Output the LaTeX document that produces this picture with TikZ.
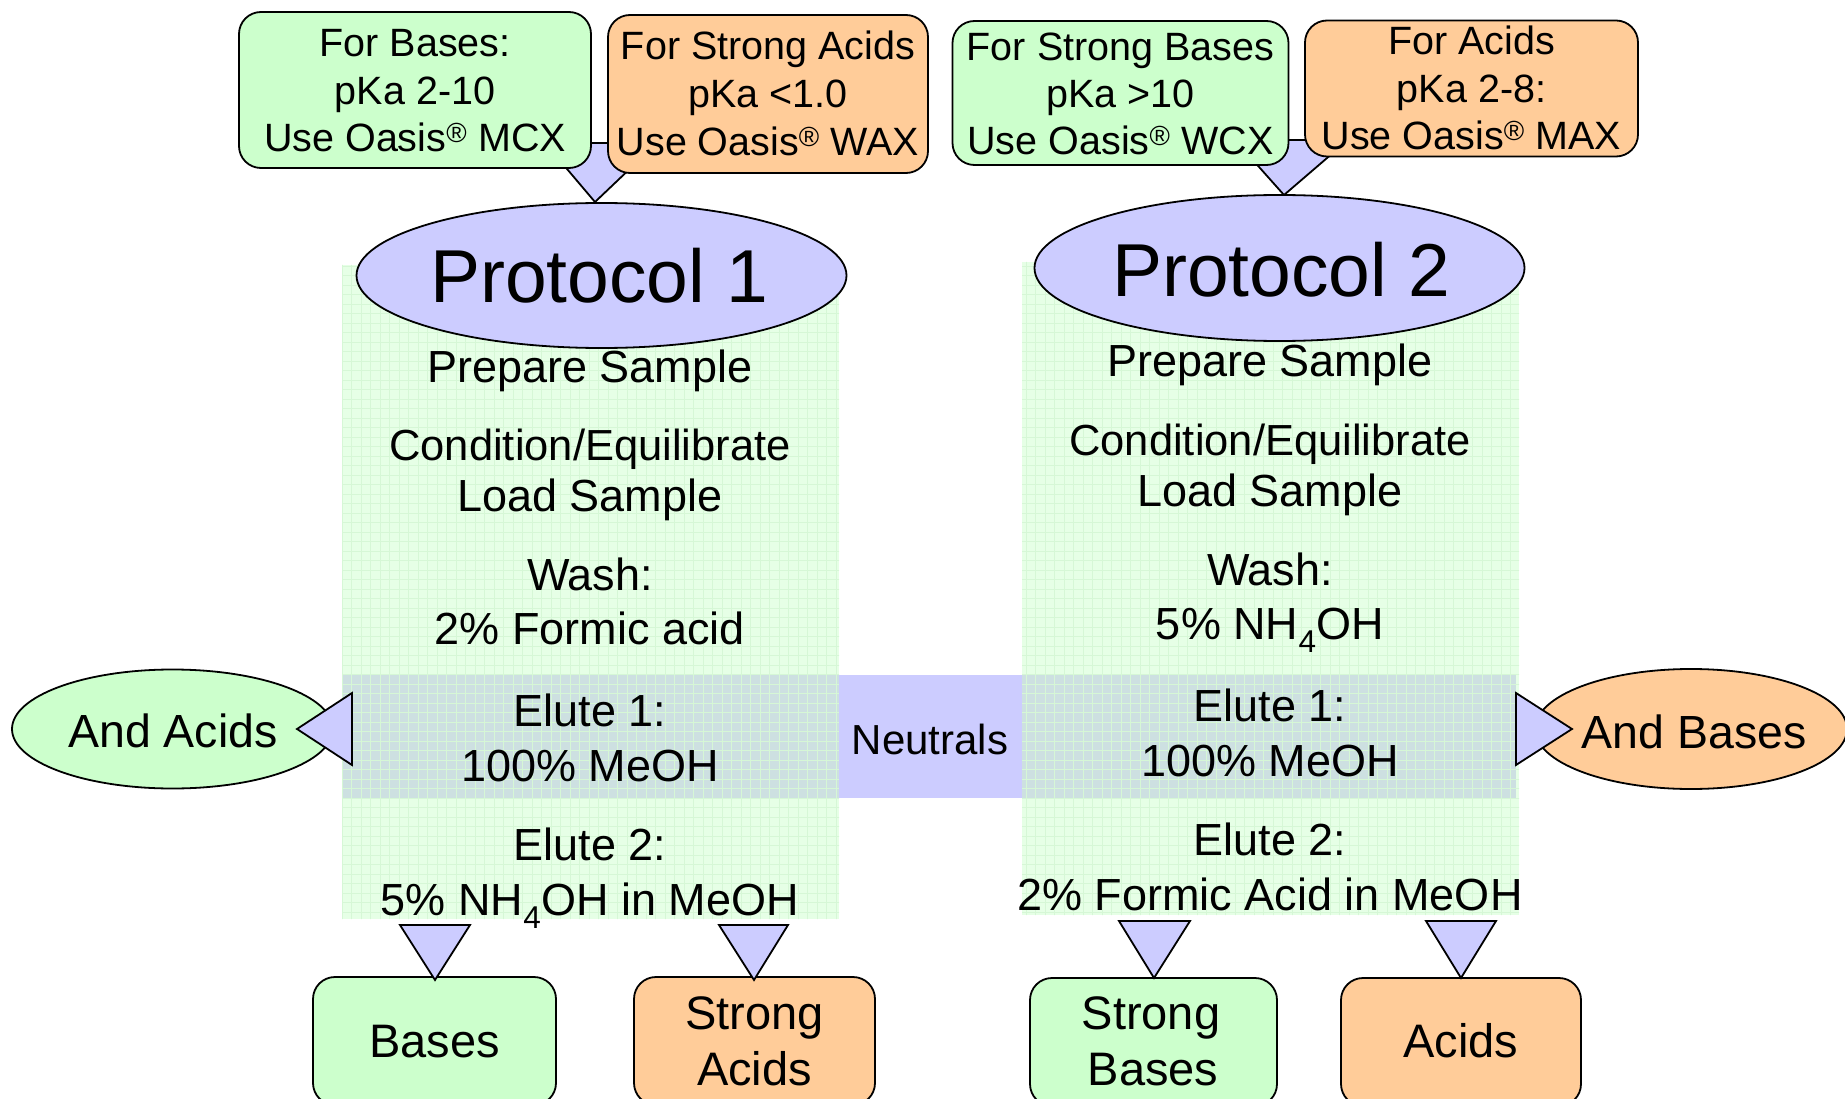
\documentclass[tikz,border=0pt]{standalone}
\usepackage{fontspec}
\setmainfont{Liberation Sans}
\usetikzlibrary{shapes.geometric}
\definecolor{boxgreen}{HTML}{CCFFCC}
\definecolor{boxorange}{HTML}{FFCC99}
\definecolor{lav}{HTML}{CCCCFF}
\definecolor{colgreen}{HTML}{E6FFE6}
\definecolor{gridgreen}{HTML}{D6F7D6}
\definecolor{bandblue}{HTML}{CDE0E1}
\begin{document}
\begin{tikzpicture}[x=1pt,y=-1pt,
  every node/.style={inner sep=0pt,outer sep=0pt},
  colbg/.style={rectangle,fill=colgreen,draw=none},
  tbox/.style={rectangle,draw=black,line width=1.8pt,rounded corners=22pt},
  gbox/.style={tbox,fill=boxgreen},
  obox/.style={tbox,fill=boxorange},
  protoell/.style={ellipse,draw=black,line width=1.8pt,fill=lav},
  sideell/.style={ellipse,draw=black,line width=1.8pt},
  tri/.style={draw=black,line width=1.8pt,fill=lav,line join=miter},
  body/.style={anchor=base,font=\fontsize{45}{54}\selectfont},
  bodyn/.style={anchor=base,font=\fontsize{43.5}{54}\selectfont},
  small/.style={anchor=base,font=\fontsize{39.5}{47.5}\selectfont},
  big/.style={anchor=base,font=\fontsize{47}{56}\selectfont}]
\useasboundingbox (0,0) rectangle (1845,1099);
\clip (0,0) rectangle (1845,1099);

% columns
\node[colbg,minimum width=497pt,minimum height=654pt] (colL) at (590.5,592) {};
\node[colbg,minimum width=497pt,minimum height=653pt] (colR) at (1270.5,588.5) {};
% elute band
\node[rectangle,fill=bandblue,minimum width=1174pt,minimum height=123pt] (band) at (929,736.5) {};
% grid over columns
\begin{scope}
  \clip (342,265) rectangle (839,919) (1022,262) rectangle (1519,915);
  \draw[gridgreen,line width=0.5pt] (333,256) grid[step=9.5pt] (1530,925);
\end{scope}
\node[rectangle,fill=lav,minimum width=183pt,minimum height=123pt] (neutbox) at (930.5,736.5) {};
\node[anchor=base,font=\fontsize{42}{50}\selectfont] (neut) at (930,754) {Neutrals};

% top triangles (behind the boxes)
\coordinate (ta1) at (545,143); \coordinate (tb1) at (657,143); \coordinate (tc1) at (595,202);
\coordinate (ta2) at (1235,140); \coordinate (tb2) at (1348,140); \coordinate (tc2) at (1284,195);
\draw[tri] (ta1) -- (tb1) -- (tc1) -- cycle;
\draw[tri] (ta2) -- (tb2) -- (tc2) -- cycle;

% top boxes
\node[gbox,minimum width=352pt,minimum height=156pt] (b1) at (415,90) {};
\node[obox,minimum width=320pt,minimum height=158pt] (b2) at (768,94) {};
\node[gbox,minimum width=336pt,minimum height=144pt] (b3) at (1120.5,93) {};
\node[obox,minimum width=333pt,minimum height=136pt] (b4) at (1471.5,88.5) {};

\node[small] (b1a) at (415,57) {For Bases:};
\node[small] (b1b) at (415,104.5) {pKa 2-10};
\node[small] (b1c) at (415,152) {Use Oasis\textsuperscript{®} MCX};
\node[small] (b2a) at (768,60) {For Strong Acids};
\node[small] (b2b) at (768,108) {pKa <1.0};
\node[small] (b2c) at (768,156) {Use Oasis\textsuperscript{®} WAX};
\node[small] (b3a) at (1120.5,61) {For Strong Bases};
\node[small] (b3b) at (1120.5,108) {pKa >10};
\node[small] (b3c) at (1120.5,155) {Use Oasis\textsuperscript{®} WCX};
\node[small] (b4a) at (1471.5,55) {For Acids};
\node[small] (b4b) at (1471.5,102.5) {pKa 2-8:};
\node[small] (b4c) at (1471.5,150) {Use Oasis\textsuperscript{®} MAX};

% protocol ellipses
\node[protoell,minimum width=490pt,minimum height=145pt] (p1) at (601.5,275.5) {};
\node[protoell,minimum width=490pt,minimum height=146pt] (p2) at (1279.5,268) {};
\node[anchor=base,font=\fontsize{75}{90}\selectfont] (p1t) at (599,303) {Protocol 1};
\node[anchor=base,font=\fontsize{75}{90}\selectfont] (p2t) at (1281,297) {Protocol 2};

% left column text
\node[body] (l1) at (590,382) {Prepare Sample};
\node[bodyn] (l2) at (590,460) {Condition/Equilibrate};
\node[body] (l3) at (590,511) {Load Sample};
\node[body] (l4) at (590,590) {Wash:};
\node[body] (l5) at (590,644) {2\% Formic acid};
\node[body] (l6) at (590,726) {Elute 1:};
\node[body] (l7) at (590,781) {100\% MeOH};
\node[body] (l8) at (590,860) {Elute 2:};
\node[body] (l9) at (590,915) {5\% NH\textsubscript{4}OH in MeOH};

% right column text
\node[body] (r1) at (1270,377) {Prepare Sample};
\node[bodyn] (r2) at (1270,455) {Condition/Equilibrate};
\node[body] (r3) at (1270,506) {Load Sample};
\node[body] (r4) at (1270,585) {Wash:};
\node[body] (r5) at (1270,639) {5\% NH\textsubscript{4}OH};
\node[body] (r6) at (1270,721) {Elute 1:};
\node[body] (r7) at (1270,776) {100\% MeOH};
\node[body] (r8) at (1270,855) {Elute 2:};
\node[body] (r9) at (1270,910) {2\% Formic Acid in MeOH};

% side ellipses
\node[sideell,fill=boxgreen,minimum width=321pt,minimum height=119pt] (acids) at (172.5,729) {};
\node[anchor=base,font=\fontsize{46.5}{56}\selectfont] (acidst) at (173,747) {And Acids};
\node[sideell,fill=boxorange,minimum width=312pt,minimum height=120pt] (bases) at (1691,729) {};
\node[anchor=base,font=\fontsize{46.5}{56}\selectfont] (basest) at (1694,748) {And Bases};

% side triangles
\coordinate (sa1) at (352,693); \coordinate (sb1) at (352,765); \coordinate (sc1) at (297,729);
\coordinate (sa2) at (1516,693); \coordinate (sb2) at (1516,765); \coordinate (sc2) at (1572,729);
\draw[tri] (sa1) -- (sb1) -- (sc1) -- cycle;
\draw[tri] (sa2) -- (sb2) -- (sc2) -- cycle;

% bottom boxes
\node[gbox,minimum width=243pt,minimum height=128pt] (bb1) at (434.5,1041) {};
\node[obox,minimum width=241pt,minimum height=128pt] (bb2) at (754.5,1041) {};
\node[gbox,minimum width=247pt,minimum height=128pt] (bb3) at (1153.5,1042) {};
\node[obox,minimum width=240pt,minimum height=128pt] (bb4) at (1461,1042) {};
\node[big] (bb1t) at (434.5,1057) {Bases};
\node[big] (bb2a) at (754.5,1029) {Strong};
\node[big] (bb2b) at (754.5,1085) {Acids};
\node[big] (bb3a) at (1151,1029) {Strong};
\node[big] (bb3b) at (1153,1085) {Bases};
\node[big] (bb4t) at (1461,1057) {Acids};

% bottom triangles
\coordinate (da1) at (400,925); \coordinate (db1) at (470,925); \coordinate (dc1) at (435,980);
\coordinate (da2) at (719,925); \coordinate (db2) at (788,925); \coordinate (dc2) at (754,980);
\coordinate (da3) at (1119,921); \coordinate (db3) at (1190,921); \coordinate (dc3) at (1154,978);
\coordinate (da4) at (1426,921); \coordinate (db4) at (1496,921); \coordinate (dc4) at (1461,978);
\foreach \i in {1,2,3,4} {\draw[tri] (da\i) -- (db\i) -- (dc\i) -- cycle;}
\end{tikzpicture}
\end{document}
